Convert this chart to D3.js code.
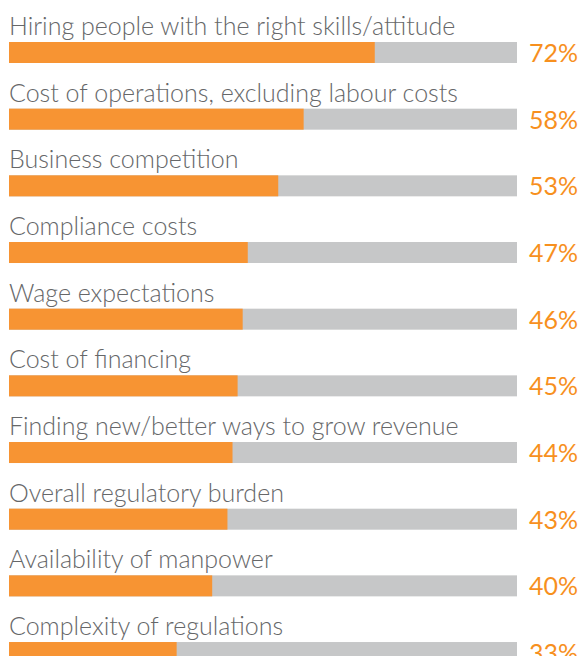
<!DOCTYPE html>
<html>
<head>
<meta charset="utf-8">
<script src="https://cdn.jsdelivr.net/npm/d3@7"></script>
<style>
  body { margin: 0; background: #fff; }
</style>
</head>
<body>
<script>
// données
const categories = [
  "Hiring people with the right skills/attitude",
  "Cost of operations, excluding labour costs",
  "Business competition",
  "Compliance costs",
  "Wage expectations",
  "Cost of financing",
  "Finding new/better ways to grow revenue",
  "Overall regulatory burden",
  "Availability of manpower",
  "Complexity of regulations"
]
const values = [72, 58, 53, 47, 46, 45, 44, 43, 40, 33]

const width = 584
const height = 656

const svg = d3.select("body")
    .append("svg")
    .attr("width", width)
    .attr("height", height)

// échelle horizontale : 0-100% sur la piste grise
const x = d3.scaleLinear()
    .domain([0, 100])
    .range([9, 517])

// échelle verticale : une bande par catégorie
const y = d3.scaleBand()
    .domain(categories)
    .range([42 - 45.67, 42 + 10 * 66.67 - 45.67])
    .paddingInner(0)
    .paddingOuter(0)

const barH = 21
const rows = svg.selectAll("g.row")
    .data(categories)
    .enter()
    .append("g")
    .attr("class", "row")
    .attr("transform", d => `translate(0,${y(d)})`)

// piste grise
rows.append("rect")
    .attr("x", x(0))
    .attr("y", 45.67)
    .attr("width", x(100) - x(0))
    .attr("height", barH)
    .attr("fill", "#c6c7c8")

// barre orange
rows.append("rect")
    .attr("x", x(0))
    .attr("y", 45.67)
    .attr("width", (d, i) => x(values[i]) - x(0))
    .attr("height", barH)
    .attr("fill", "#f79433")

// libellé
rows.append("text")
    .attr("x", 9)
    .attr("y", 38.5)
    .attr("font-family", "Lato")
    .attr("font-weight", 300)
    .attr("font-size", 25)
    .attr("fill", "#666769")
    .text(d => d)

// pourcentage
rows.append("text")
    .attr("x", 529)
    .attr("y", 65.5)
    .attr("font-family", "Lato")
    .attr("font-weight", 400)
    .attr("font-size", 25)
    .attr("fill", "#f7901e")
    .text((d, i) => values[i] + "%")
</script>
</body>
</html>
